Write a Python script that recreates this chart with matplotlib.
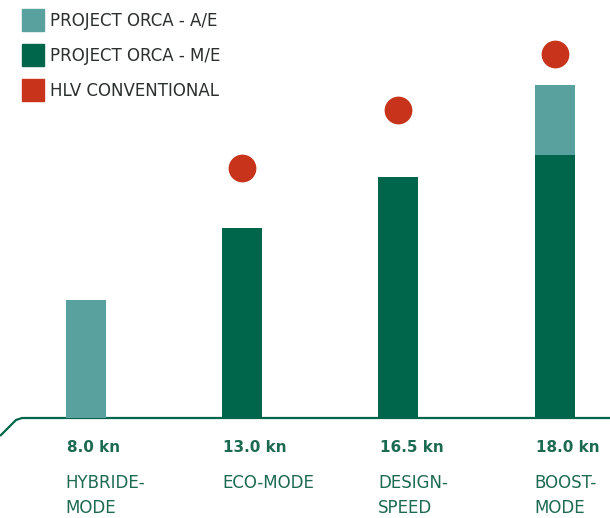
import numpy as np
import matplotlib
matplotlib.use("Agg")
from matplotlib import pyplot as plt
from matplotlib.lines import Line2D

# data (pixel-ish units, baseline = 0)
modes = ['HYBRIDE-\nMODE', 'ECO-MODE', 'DESIGN-\nSPEED', 'BOOST-\nMODE']
speeds = ['8.0 kn', '13.0 kn', '16.5 kn', '18.0 kn']
me = [0, 190, 241, 263]
ae = [118, 0, 0, 70]
hlv = [np.nan, 250, 308, 364]

AE = '#58a19e'
ME = '#00664b'
RED = '#c8341b'
TXT = '#1d6a52'

plt.rcParams['font.family'] = ['DejaVu Sans']

fig = plt.figure(figsize=(6.10, 5.18), dpi=100)
ax = fig.add_axes([0, 0, 1, 1])
step = 156.4
ax.set_xlim(-85.5/step, (610-85.5)/step)
ax.set_ylim(-100, 418)
ax.axis('off')

x = np.arange(len(modes))
w = 40/step
ax.bar(x, me, width=w, color=ME, zorder=2)
ax.bar(x, ae, width=w, bottom=me, color=AE, zorder=2)
ax.scatter(x, hlv, s=400, color=RED, zorder=3, linewidths=0)

# baseline with bent left end
ax.plot([0, 16/610, 22/610, 1], [1-436/518, 1-420/518, 1-418/518, 1-418/518],
        transform=ax.transAxes, color=ME, lw=1.6, solid_capstyle='butt', zorder=1)

for i in range(len(modes)):
    ax.text(x[i]-w/2+0.01, -30, speeds[i], ha='left', va='center', fontsize=11,
            fontweight='bold', color=TXT)
    ax.text(x[i]-w/2, -56, modes[i], ha='left', va='top', fontsize=12,
            color=TXT, linespacing=1.5)

handles = [Line2D([], [], marker='s', ls='', markersize=16, color=c) for c in (AE, ME, RED)]
ax.legend(handles, ['PROJECT ORCA - A/E', 'PROJECT ORCA - M/E', 'HLV CONVENTIONAL'],
          loc='upper left', bbox_to_anchor=(12/610, 1+1/518), bbox_transform=fig.transFigure,
          frameon=False, handlelength=0.9, handletextpad=0.6, labelspacing=1.0,
          prop={'size': 12}, labelcolor='#2b2f2e', borderpad=0.3)

fig.savefig('out.png', dpi=100)
